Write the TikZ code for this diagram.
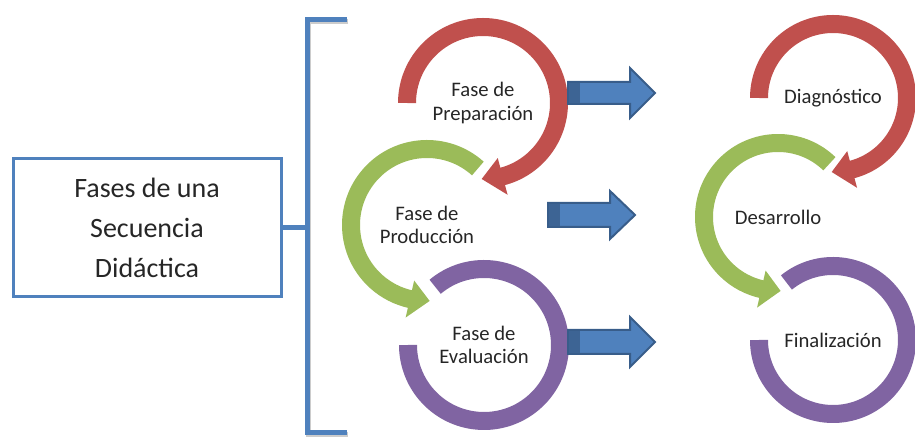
\documentclass[tikz,border=0pt]{standalone}
\usepackage{fontspec}
\setmainfont{Carlito}
\definecolor{ofred}{HTML}{C0504D}
\definecolor{ofgreen}{HTML}{9BBB59}
\definecolor{ofpurple}{HTML}{8064A2}
\definecolor{ofblue}{HTML}{4F81BD}
\definecolor{ofdarkblue}{HTML}{385D8A}
\tikzset{
  ring/.style={line width=13.5pt},
  phase/.style={font=\fontsize{15.5}{17.5}\selectfont, text=black!85, align=center, inner sep=0pt},
  bracket/.style={draw=ofblue, line width=3.75pt},
  blockarrow/.style={fill=ofblue, draw=ofdarkblue, line width=1.5pt, line join=miter},
}
\begin{document}
\begin{tikzpicture}[x=0.75pt,y=0.75pt]
\useasboundingbox (0,0) rectangle (915,442);

% caja de la izquierda y corchete
\node[draw=ofblue, line width=2.25pt, minimum width=201pt, minimum height=104pt,
      font=\fontsize{21}{30}\selectfont, text=black!85, align=center] (fases) at (147,214.5)
      {Fases de una\\Secuencia\\Didáctica};
\coordinate (brtop) at (347,422);
\coordinate (brmid) at (307,214.5);
\coordinate (brbot) at (347,9);
\draw[black!20, line width=3.75pt, transform canvas={shift={(1pt,-1.5pt)}}] (brtop) -- (brtop -| brmid) -- (brbot -| brmid) -- (brbot);
\draw[bracket] (brtop) -- (brtop -| brmid) -- (brbot -| brmid) -- (brbot);
\draw[bracket] (fases.east) -- (brmid);

% fases
\node[phase] (prep) at (483,339) {Fase de\\Preparación};
\node[phase] (prod) at (427,217) {Fase de\\Producción};
\node[phase] (eval) at (484,97) {Fase de\\Evaluación};

\draw[ring, ofred] ([shift={(180:76)}]prep.center) arc[start angle=180, end angle=-76, radius=76];
\fill[ofred] ([shift={(-75:57)}]prep.center) -- ([shift={(-75:95)}]prep.center) -- ([shift={(-91:76)}]prep.center) -- cycle;
\draw[ring, ofgreen] ([shift={(48:76)}]prod.center) arc[start angle=48, end angle=258, radius=76];
\fill[ofgreen] ([shift={(257:57)}]prod.center) -- ([shift={(257:95)}]prod.center) -- ([shift={(272:76)}]prod.center) -- cycle;
\draw[ring, ofpurple] ([shift={(130:76)}]eval.center) arc[start angle=130, end angle=-180, radius=76];

% flechas
\draw[blockarrow] (568,338) -- ++(62,0) -- ++(0,-14) -- ++(25,25) -- ++(-25,25) -- ++(0,-14) -- ++(-62,0) -- cycle;
\fill[ofdarkblue!80!ofblue] (569,339) rectangle (580,359);
\draw[blockarrow] (548,215) -- ++(62,0) -- ++(0,-12) -- ++(25,24) -- ++(-25,24) -- ++(0,-12) -- ++(-62,0) -- cycle;
\fill[ofdarkblue!80!ofblue] (549,216) rectangle (560,238);
\draw[blockarrow] (568,88) -- ++(62,0) -- ++(0,-13) -- ++(25,25) -- ++(-25,25) -- ++(0,-13) -- ++(-62,0) -- cycle;
\fill[ofdarkblue!80!ofblue] (569,89) rectangle (580,111);

% etapas
\node[phase] (diag) at (833,344) {Diagnóstico};
\node[phase] (desa) at (778,225) {Desarrollo};
\node[phase] (fina) at (833,102) {Finalización};

\draw[ring, ofred] ([shift={(180:74)}]diag.center) arc[start angle=180, end angle=-76, radius=74];
\fill[ofred] ([shift={(-75:55)}]diag.center) -- ([shift={(-75:93)}]diag.center) -- ([shift={(-91:74)}]diag.center) -- cycle;
\draw[ring, ofgreen] ([shift={(46:74)}]desa.center) arc[start angle=46, end angle=258, radius=74];
\fill[ofgreen] ([shift={(257:55)}]desa.center) -- ([shift={(257:93)}]desa.center) -- ([shift={(272:74)}]desa.center) -- cycle;
\draw[ring, ofpurple] ([shift={(129:74)}]fina.center) arc[start angle=129, end angle=-180, radius=74];
\end{tikzpicture}
\end{document}
